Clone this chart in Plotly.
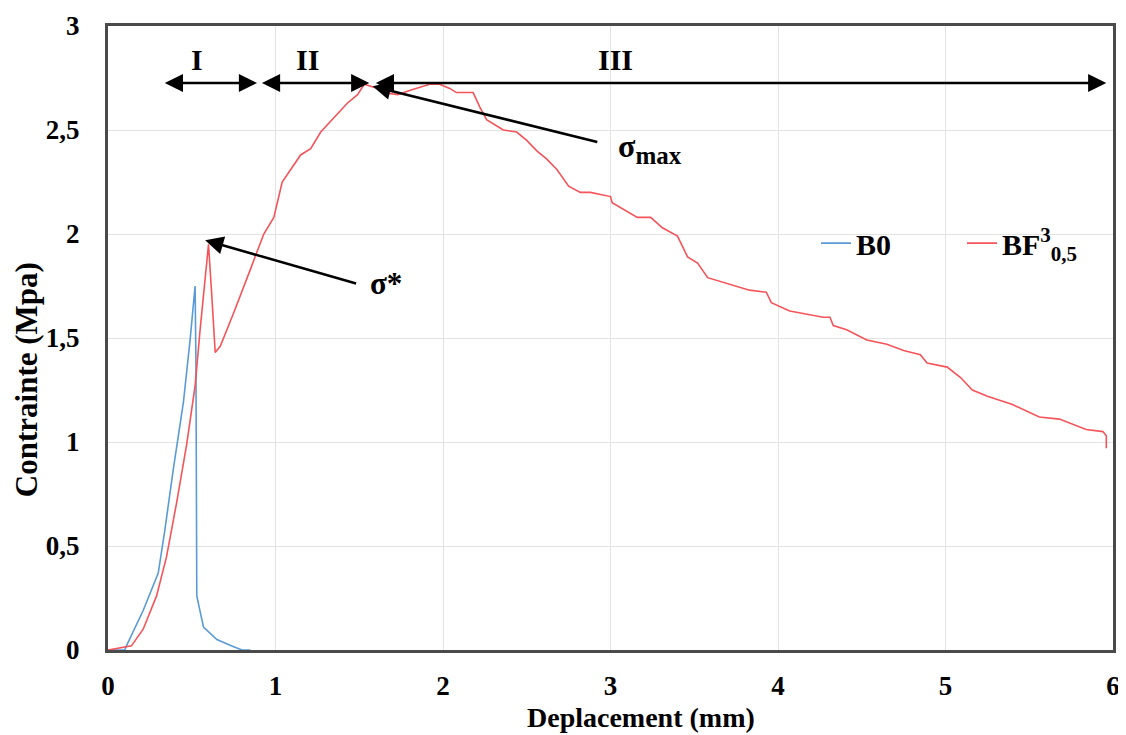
import plotly.graph_objects as go

# ---- data ----
b0_x = [0, 0.10, 0.11, 0.21, 0.30, 0.34, 0.39, 0.45, 0.49, 0.52, 0.525, 0.528, 0.53, 0.57, 0.65, 0.75, 0.80, 0.85]
b0_y = [0, 0, 0.02, 0.19, 0.37, 0.58, 0.87, 1.19, 1.49, 1.75, 1.38, 0.42, 0.26, 0.11, 0.05, 0.016, 0.0, 0.0]

bf_x = [0, 0.14, 0.21, 0.29, 0.35, 0.41, 0.47, 0.52, 0.55, 0.58, 0.60, 0.62, 0.64, 0.67, 0.75, 0.85,
        0.93, 0.99, 1.04, 1.15, 1.21, 1.27, 1.37, 1.43, 1.49, 1.53, 1.61, 1.64, 1.73, 1.80, 1.92, 1.98,
        2.04, 2.08, 2.18, 2.22, 2.26, 2.36, 2.44, 2.50, 2.56, 2.62, 2.68, 2.75, 2.82, 2.88, 3.00, 3.01,
        3.16, 3.24, 3.31, 3.40, 3.46, 3.52, 3.58, 3.70, 3.83, 3.93, 3.96, 4.07, 4.27, 4.31, 4.33, 4.41,
        4.53, 4.65, 4.75, 4.85, 4.89, 5.01, 5.09, 5.16, 5.25, 5.40, 5.56, 5.68, 5.84, 5.94, 5.96, 5.96]
bf_y = [0, 0.02, 0.10, 0.26, 0.45, 0.71, 0.99, 1.27, 1.54, 1.78, 1.95, 1.70, 1.43, 1.46, 1.62, 1.83,
        2.00, 2.08, 2.25, 2.38, 2.41, 2.49, 2.58, 2.63, 2.67, 2.72, 2.70, 2.68, 2.67, 2.69, 2.72, 2.72,
        2.70, 2.68, 2.68, 2.61, 2.55, 2.50, 2.49, 2.45, 2.40, 2.36, 2.31, 2.23, 2.20, 2.20, 2.18, 2.15,
        2.08, 2.08, 2.03, 1.99, 1.89, 1.86, 1.79, 1.76, 1.73, 1.72, 1.67, 1.63, 1.60, 1.60, 1.56, 1.54,
        1.49, 1.47, 1.44, 1.42, 1.38, 1.36, 1.31, 1.25, 1.22, 1.18, 1.12, 1.11, 1.06, 1.05, 1.03, 0.97]

x_ticks = [0, 1, 2, 3, 4, 5, 6]
x_ticklabels = ["0", "1", "2", "3", "4", "5", "6"]
y_ticks = [0, 0.5, 1, 1.5, 2, 2.5, 3]
y_ticklabels = ["0", "0,5", "1", "1,5", "2", "2,5", "3"]

# zones (start, end) and labels
zone_names = ["I", "II", "III"]
zone_start = [0.33, 0.91, 1.59]
zone_end = [0.89, 1.56, 5.96]
zone_label_x = [0.53, 1.19, 3.03]
zone_arrow_y = 2.726
zone_label_y = 2.84

# key points
smax_point = (1.58, 2.71)
smax_tail = (2.93, 2.44)
sstar_point = (0.58, 1.97)
sstar_tail = (1.49, 1.76)

FONT = "Liberation Serif"
BLUE = "#5B9BD5"
RED = "#F4545A"

fig = go.Figure()
fig.add_trace(go.Scatter(x=b0_x, y=b0_y, mode="lines", name="B0",
                         line=dict(color=BLUE, width=1.6)))
fig.add_trace(go.Scatter(x=bf_x, y=bf_y, mode="lines", name="BF<sup>3</sup><sub>0,5</sub>",
                         line=dict(color=RED, width=1.6)))

ann = []
for s, e in zip(zone_start, zone_end):
    ann.append(dict(x=e, y=zone_arrow_y, ax=s, ay=zone_arrow_y, xref="x", yref="y",
                    axref="x", ayref="y", showarrow=True, arrowhead=2, startarrowhead=2,
                    arrowside="end+start", arrowsize=1.4, startarrowsize=1.4, arrowwidth=2.6,
                    arrowcolor="black", text=""))
for name, lx in zip(zone_names, zone_label_x):
    ann.append(dict(x=lx, y=zone_label_y, xref="x", yref="y", text=name, showarrow=False,
                    xanchor="center", yanchor="middle",
                    font=dict(family=FONT, size=30, color="black", weight="bold")))

ann.append(dict(x=smax_point[0], y=smax_point[1], ax=smax_tail[0], ay=smax_tail[1],
                xref="x", yref="y", axref="x", ayref="y", showarrow=True, arrowhead=2,
                arrowsize=1.4, arrowwidth=2.6, arrowcolor="black", text=""))
ann.append(dict(x=smax_tail[0] + 0.10, y=smax_tail[1] - 0.03, xref="x", yref="y",
                xanchor="left", yanchor="middle",
                text="σ<sub><span style='font-size:25px'>max</span></sub>", showarrow=False,
                font=dict(family=FONT, size=32, color="black", weight="bold")))
ann.append(dict(x=sstar_point[0], y=sstar_point[1], ax=sstar_tail[0], ay=sstar_tail[1],
                xref="x", yref="y", axref="x", ayref="y", showarrow=True, arrowhead=2,
                arrowsize=1.4, arrowwidth=2.6, arrowcolor="black", text=""))
ann.append(dict(x=sstar_tail[0] + 0.06, y=sstar_tail[1], xref="x", yref="y",
                xanchor="left", yanchor="middle", text="σ*", showarrow=False,
                font=dict(family=FONT, size=31, color="black", weight="bold")))

# axis titles
ann.append(dict(x=-0.0816, y=0.434, xref="paper", yref="paper", text="Contrainte (Mpa)",
                textangle=-90, showarrow=False, xanchor="center", yanchor="middle",
                font=dict(family=FONT, size=31, color="black", weight="bold")))
ann.append(dict(x=0.530, y=-0.108, xref="paper", yref="paper", text="Deplacement (mm)",
                showarrow=False, xanchor="center", yanchor="middle",
                font=dict(family=FONT, size=28, color="black", weight="bold")))

# the page body adds an 8px offset, so the figure is sized to the remaining window
fig.update_layout(
    width=1118, height=727,
    margin=dict(l=100, r=13, t=18, b=85, autoexpand=False),
    paper_bgcolor="white", plot_bgcolor="white",
    font=dict(family=FONT, size=26, color="black"),
    showlegend=True,
    legend=dict(orientation="h", x=0.7045, y=0.652, xanchor="left", yanchor="middle",
                bgcolor="rgba(0,0,0,0)", entrywidth=101, entrywidthmode="pixels",
                font=dict(family=FONT, size=30, color="black", weight="bold")),
    annotations=ann,
)
fig.update_xaxes(range=[0, 6], tickvals=x_ticks, ticktext=x_ticklabels, automargin=False,
                 showgrid=True, gridcolor="#E3E3E3", gridwidth=1,
                 showline=True, linecolor="#4A4A4A", linewidth=3, mirror=True,
                 zeroline=False, ticks="", ticklabelstandoff=10,
                 tickfont=dict(family=FONT, size=27, color="black", weight="bold"))
fig.update_yaxes(range=[0, 3], tickvals=y_ticks, ticktext=y_ticklabels, automargin=False,
                 showgrid=True, gridcolor="#E3E3E3", gridwidth=1,
                 showline=True, linecolor="#4A4A4A", linewidth=3, mirror=True,
                 zeroline=False, ticks="", ticklabelstandoff=20,
                 tickfont=dict(family=FONT, size=27, color="black", weight="bold"))

fig.write_html("out.html")
